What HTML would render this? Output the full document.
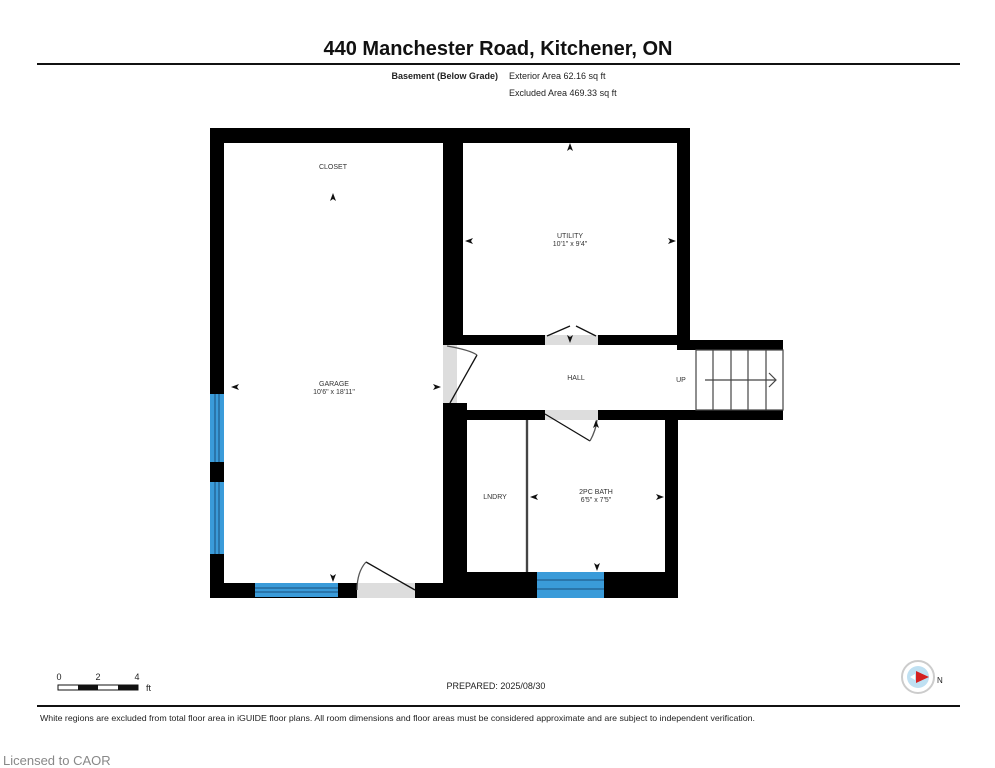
<!DOCTYPE html>
<html><head><meta charset="utf-8"><style>
html,body{margin:0;padding:0;background:#fff;}
svg{display:block;font-family:"Liberation Sans",Arial,sans-serif;}
</style></head><body>
<svg width="995" height="768" viewBox="0 0 995 768" xmlns="http://www.w3.org/2000/svg">
<rect width="995" height="768" fill="#fff"/>
<text x="498" y="55" font-size="20" font-weight="bold" text-anchor="middle" fill="#111">440 Manchester Road, Kitchener, ON</text>
<rect x="37" y="63" width="923" height="2" fill="#111"/>
<text x="498" y="79" font-size="9" font-weight="bold" text-anchor="end" fill="#222">Basement (Below Grade)</text>
<text x="509" y="79" font-size="9" fill="#222">Exterior Area 62.16 sq ft</text>
<text x="509" y="96" font-size="9" fill="#222">Excluded Area 469.33 sq ft</text>

<g fill="#000">
<rect x="210" y="128" width="480" height="15"/>
<rect x="210" y="128" width="14" height="470"/>
<rect x="443" y="128" width="20" height="217"/>
<rect x="677" y="128" width="13" height="217"/>
<rect x="443" y="335" width="247" height="10"/>
<rect x="677" y="340" width="106" height="10"/>
<rect x="443" y="410" width="340" height="10"/>
<rect x="443" y="403" width="24" height="195"/>
<rect x="665" y="410" width="13" height="188"/>
<rect x="443" y="572" width="235" height="26"/>
<rect x="210" y="583" width="253" height="15"/>
</g>
<g fill="#3a9bd9">
<rect x="210" y="394" width="14" height="68"/>
<rect x="210" y="482" width="14" height="72"/>
<rect x="255" y="583" width="83" height="14"/>
<rect x="537" y="572" width="67" height="26"/>
</g>
<g stroke="#1a4f7a" stroke-width="1">
<line x1="215" y1="394" x2="215" y2="462"/><line x1="219" y1="394" x2="219" y2="462"/>
<line x1="215" y1="482" x2="215" y2="554"/><line x1="219" y1="482" x2="219" y2="554"/>
<line x1="255" y1="588" x2="338" y2="588"/><line x1="255" y1="592" x2="338" y2="592"/>
<line x1="537" y1="580" x2="604" y2="580"/><line x1="537" y1="589" x2="604" y2="589"/>
</g>
<g fill="#ddd">
<rect x="357" y="583" width="58" height="15"/>
<rect x="443" y="345" width="14" height="58"/>
<rect x="545" y="335" width="53" height="10"/>
<rect x="545" y="410" width="53" height="10"/>
<rect x="525" y="420" width="4" height="152"/>
</g>
<g stroke="#111" stroke-width="1.3" fill="none">
<line x1="415" y1="590" x2="366" y2="562"/>
<path d="M366 562 Q357 572 357 590" stroke="#555"/>
<line x1="450" y1="403" x2="477" y2="355"/>
<path d="M447 346 Q470 350 477 355" stroke="#555"/>
<line x1="545" y1="414" x2="590" y2="441"/>
<path d="M590 441 Q596 430 597 420" stroke="#555"/>
<line x1="547" y1="336" x2="570" y2="326"/>
<line x1="596" y1="336" x2="576" y2="326"/>
<line x1="527" y1="420" x2="527" y2="572" stroke-width="1.5"/>
</g>
<g stroke="#444" stroke-width="1.2" fill="none">
<rect x="696" y="350" width="87" height="60"/>
<line x1="713" y1="350" x2="713" y2="410"/>
<line x1="731" y1="350" x2="731" y2="410"/>
<line x1="748" y1="350" x2="748" y2="410"/>
<line x1="766" y1="350" x2="766" y2="410"/>
<line x1="705" y1="380" x2="775" y2="380"/>
<polyline points="769,373 776,380 769,387"/>
</g>
<g font-size="7" fill="#333" text-anchor="middle">
<text x="333" y="169">CLOSET</text>
<text x="334" y="386">GARAGE</text>
<text x="334" y="394">10'6" x 18'11"</text>
<text x="570" y="238">UTILITY</text>
<text x="570" y="246">10'1" x 9'4"</text>
<text x="576" y="380">HALL</text>
<text x="681" y="382">UP</text>
<text x="495" y="499">LNDRY</text>
<text x="596" y="494">2PC BATH</text>
<text x="596" y="502">6'5" x 7'5"</text>
</g>
<g fill="#111">
<path d="M333 193 l-3 8 l3 -2 l3 2z"/>
<path d="M570 143 l-3 8 l3 -2 l3 2z"/>
<path d="M231 387 l8 -3 l-2 3 l2 3z"/>
<path d="M441 387 l-8 -3 l2 3 l-2 3z"/>
<path d="M465 241 l8 -3 l-2 3 l2 3z"/>
<path d="M676 241 l-8 -3 l2 3 l-2 3z"/>
<path d="M596 420 l-3 8 l3 -2 l3 2z"/>
<path d="M570 343 l-3 -8 l3 2 l3 -2z"/>
<path d="M333 582 l-3 -8 l3 2 l3 -2z"/>
<path d="M597 571 l-3 -8 l3 2 l3 -2z"/>
<path d="M530 497 l8 -3 l-2 3 l2 3z"/>
<path d="M664 497 l-8 -3 l2 3 l-2 3z"/>
</g>

<g font-size="9" fill="#222">
<text x="59" y="680" text-anchor="middle">0</text>
<text x="98" y="680" text-anchor="middle">2</text>
<text x="137" y="680" text-anchor="middle">4</text>
<text x="146" y="691">ft</text>
</g>
<rect x="58" y="685" width="80" height="5" fill="#fff" stroke="#111" stroke-width="1"/>
<rect x="78" y="685" width="20" height="5" fill="#111"/>
<rect x="118" y="685" width="20" height="5" fill="#111"/>
<text x="496" y="689" font-size="9" text-anchor="middle" fill="#222">PREPARED: 2025/08/30</text>
<circle cx="918" cy="677" r="16" fill="#fff" stroke="#ccc" stroke-width="2"/>
<circle cx="918" cy="677" r="11" fill="#bfe0f2"/>
<path d="M910 677 l5 -3 v6z" fill="#fff"/>
<path d="M916 671 l13 6 l-13 6z" fill="#d42020"/>
<text x="937" y="683" font-size="8" fill="#222">N</text>
<rect x="37" y="705" width="923" height="2" fill="#111"/>
<text x="40" y="721" font-size="8.5" fill="#222" textLength="715" lengthAdjust="spacingAndGlyphs">White regions are excluded from total floor area in iGUIDE floor plans. All room dimensions and floor areas must be considered approximate and are subject to independent verification.</text>
<text x="3" y="765" font-size="13" fill="#888">Licensed to CAOR</text>
</svg>
</body></html>
